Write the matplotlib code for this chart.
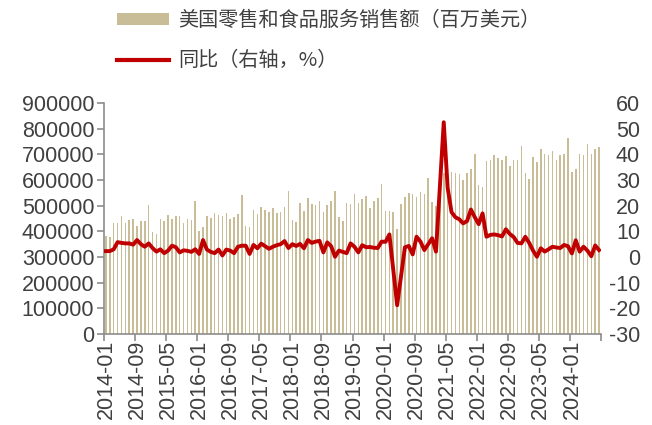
"""
美国零售和食品服务销售额（月度，百万美元）与同比增速（右轴，%）
柱状图 + 折线图双轴
"""

import matplotlib
matplotlib.use("Agg")
import matplotlib.pyplot as plt
from matplotlib.lines import Line2D
from matplotlib.patches import Patch
import pandas as pd

# ========== 数据（2014-01 ~ 2024-08，按月） ==========
months = [p.strftime("%Y-%m") for p in pd.period_range("2014-01", "2024-08", freq="M")]

# 零售和食品服务销售额（百万美元）
sales = [
    382000, 379000, 434000, 434000, 460000, 434000, 444000, 450000, 421000, 439000, 442000, 503000,  # 2014
    399000, 390000, 447000, 442000, 465000, 450000, 460000, 460000, 434000, 447000, 445000, 518000,  # 2015
    401000, 415000, 460000, 451000, 470000, 464000, 461000, 472000, 447000, 454000, 468000, 540000,  # 2016
    421000, 416000, 483000, 466000, 494000, 482000, 477000, 489000, 470000, 477000, 496000, 557000,  # 2017
    444000, 436000, 509000, 480000, 528000, 506000, 503000, 517000, 477000, 503000, 517000, 557000,  # 2018
    454000, 441000, 512000, 505000, 544000, 512000, 525000, 539000, 491000, 519000, 528000, 584000,  # 2019
    479000, 479000, 474000, 408000, 505000, 532000, 548000, 544000, 535000, 552000, 544000, 609000,  # 2020
    515000, 500000, 620000, 626000, 632000, 630000, 627000, 623000, 600000, 627000, 643000, 700000,  # 2021
    581000, 571000, 674000, 676000, 697000, 686000, 676000, 693000, 654000, 676000, 676000, 734000,  # 2022
    626000, 604000, 688000, 671000, 719000, 702000, 697000, 714000, 678000, 697000, 703000, 762000,  # 2023
    632000, 641000, 703000, 697000, 740000, 703000, 719000, 730000,                                  # 2024
]

# 同比（%）
yoy = [
    2.3, 2.3, 3.0, 5.8, 5.5, 5.3, 5.3, 4.8, 6.6, 5.0, 4.0, 5.3,        # 2014
    3.5, 2.1, 3.0, 1.5, 2.5, 4.4, 3.8, 1.8, 2.6, 2.4, 2.0, 3.0,        # 2015
    1.2, 6.6, 2.9, 2.0, 1.5, 2.9, 0.6, 2.9, 2.5, 1.5, 4.0, 4.4,        # 2016
    4.4, 1.2, 4.7, 3.4, 5.2, 4.2, 3.2, 4.0, 4.6, 5.0, 6.2, 3.5,        # 2017
    5.0, 4.3, 5.1, 3.4, 6.6, 5.5, 6.0, 6.3, 1.8, 5.7, 4.2, 0.1,        # 2018
    2.5, 2.0, 1.5, 5.3, 4.0, 1.8, 4.6, 3.8, 3.9, 3.6, 3.5, 6.0,        # 2019
    5.9, 8.8, -5.0, -18.8, -7.5, 3.8, 4.3, 1.0, 7.9, 6.0, 2.7, 5.0,    # 2020
    7.3, 2.1, 27.0, 52.5, 27.0, 17.5, 15.5, 14.7, 13.1, 14.0, 18.5, 15.5,  # 2021
    12.8, 17.0, 7.9, 8.6, 8.8, 8.5, 8.0, 10.8, 9.0, 7.8, 5.5, 5.3,     # 2022
    7.9, 5.5, 2.5, 0.1, 3.4, 2.1, 3.0, 4.0, 3.7, 3.5, 4.7, 4.2,        # 2023
    1.4, 6.5, 2.1, 4.0, 2.5, 0.3, 4.5, 2.7,                            # 2024
]

label_bar = "美国零售和食品服务销售额（百万美元）"
label_line = "同比（右轴，%）"

# ========== 样式 ==========
BAR_COLOR = "#c9bd97"
LINE_COLOR = "#c00000"
TEXT_COLOR = "#404040"
AXIS_COLOR = "#8c8c8c"

plt.rcParams["font.family"] = ["Liberation Sans", "Noto Sans CJK SC", "DejaVu Sans"]
plt.rcParams["axes.unicode_minus"] = False   # 负号用普通连字符，和原图一致

fig = plt.figure(figsize=(6.52, 4.25), dpi=100)
ax = fig.add_axes([104 / 652, 1 - 334 / 425, (601 - 104) / 652, (334 - 103) / 425])
ax2 = ax.twinx()

x = list(range(len(months)))

# 柱状图（左轴）
ax.bar(x, sales, width=0.4, color=BAR_COLOR, zorder=1)
ax.set_xlim(-0.5, len(months) - 0.5)
ax.set_ylim(0, 900000)
ax.set_yticks(range(0, 900001, 100000))
ax.tick_params(axis="y", direction="out", length=5, width=1.2, color=AXIS_COLOR,
               labelsize=15.5, labelcolor=TEXT_COLOR, pad=2)

# x 轴：刻度线在类别边界，每 8 个月一个；标签在类别中心
ax.set_xticks([i - 0.5 for i in range(0, len(months) + 1, 8)])
ax.set_xticklabels([])
ax.tick_params(axis="x", which="major", direction="out", length=5, width=1.2, color=AXIS_COLOR)
ax.set_xticks(list(range(0, len(months), 8)), minor=True)
ax.set_xticklabels([months[i] for i in range(0, len(months), 8)], minor=True, rotation=90)
ax.tick_params(axis="x", which="minor", length=0, labelsize=15.5, labelcolor=TEXT_COLOR, pad=4)

for side in ["top", "right"]:
    ax.spines[side].set_visible(False)
for side in ["left", "bottom"]:
    ax.spines[side].set_color(AXIS_COLOR)
    ax.spines[side].set_linewidth(1.2)

# 折线图（右轴）
ax2.plot(x, yoy, color=LINE_COLOR, linewidth=2.8, zorder=3)
ax2.set_ylim(-30, 60)
ax2.set_yticks(range(-30, 61, 10))
ax2.tick_params(axis="y", length=0, labelsize=15.5, labelcolor=TEXT_COLOR, pad=28)
for lbl in ax2.get_yticklabels():
    lbl.set_horizontalalignment("right")
for side in ["top", "right", "left", "bottom"]:
    ax2.spines[side].set_visible(False)

# ========== 图例（图上方） ==========
handles = [
    Patch(facecolor=BAR_COLOR, edgecolor="none"),
    Line2D([], [], color=LINE_COLOR, linewidth=3),
]
leg = fig.legend(handles, [label_bar, label_line], loc="upper left",
                 bbox_to_anchor=(117 / 652, 1 - 10 / 425), frameon=False,
                 borderpad=0, borderaxespad=0, handlelength=2.6, handleheight=0.5,
                 handletextpad=0.45, labelspacing=0.95,
                 prop={"family": ["Noto Sans CJK SC"], "size": 14.5})
for t in leg.get_texts():
    t.set_color(TEXT_COLOR)

fig.savefig("out.png", dpi=100)
